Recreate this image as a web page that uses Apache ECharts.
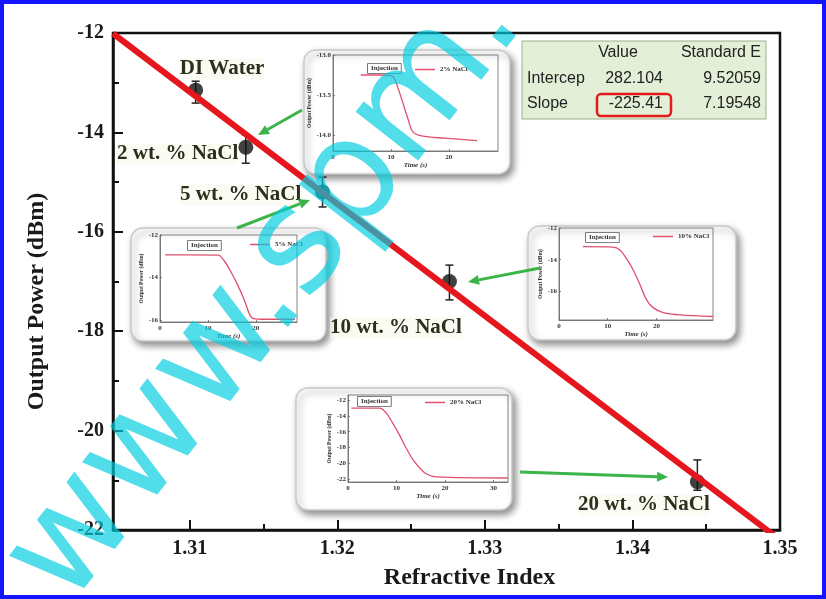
<!DOCTYPE html>
<html><head><meta charset="utf-8">
<script src="https://cdn.jsdelivr.net/npm/echarts@6/dist/echarts.min.js"></script>
<style>html,body{margin:0;padding:0;background:#fff}#c{width:826px;height:599px}</style>
</head><body><div id="c"></div>
<script>
// ---- main data ----
const samples = ['DI Water', '2 wt. % NaCl', '5 wt. % NaCl', '10 wt. % NaCl', '20 wt. % NaCl'];
const refractiveIndex = [1.3104, 1.3138, 1.3190, 1.3276, 1.3444];
const outputPower = [-13.15, -14.30, -15.20, -17.00, -21.03];
const errLow = [-13.41, -14.62, -15.50, -17.37, -21.20];
const errHigh = [-12.97, -14.05, -14.90, -16.67, -20.59];
const fitLineX = [1.3048, 1.3500];
const fitLineY = [-12.01, -22.20];
const xTickLabels = [1.31, 1.32, 1.33, 1.34, 1.35];
const xMinorTicks = [1.315, 1.325, 1.335, 1.345];
const tableRows = ['Intercep', 'Slope'];
const tableValues = ['282.104', '-225.41'];
const tableErrors = ['9.52059', '7.19548'];

// ---- inset data (time in s, output power in dBm) ----
const inset2T = [4.8, 8, 10.2, 10.7, 11.9, 13.0, 13.8, 15.3, 19.2, 24.9];
const inset2P = [-13.25, -13.25, -13.26, -13.31, -13.56, -13.81, -13.96, -14.01, -14.04, -14.07];
const inset5T = [1.1, 6, 12.1, 13.5, 14.8, 16.2, 17.6, 18.6, 19.3, 21.0, 28.2];
const inset5P = [-12.94, -12.94, -12.95, -13.25, -13.73, -14.35, -15.06, -15.69, -15.92, -15.97, -15.97];
const inset10T = [4.9, 11.1, 12.5, 13.8, 15.2, 16.6, 17.9, 19.3, 21.4, 24.8, 31.6];
const inset10P = [-13.17, -13.2, -13.38, -13.9, -14.63, -15.56, -16.5, -17.02, -17.33, -17.48, -17.58];
const inset20T = [0.7, 6.5, 7.9, 9.2, 10.6, 12.0, 13.4, 14.8, 16.2, 18.2, 33];
const inset20P = [-13.04, -13.04, -13.67, -14.9, -16.4, -18.04, -19.5, -20.54, -21.3, -21.66, -21.8];

const SERIF = "'Liberation Serif','Times New Roman',serif";
const SANS = "'Liberation Sans',Arial,sans-serif";
const INK = '#1a1a1a';
const CURVE = '#e0506e';

const insets = [
  {name: '2% NaCl', t: inset2T, p: inset2P, grid: {left: 333, top: 55, width: 165, height: 96},
   xr: [0, 28.5], yr: [-14.2, -13.0], xl: [0, 10, 20], yl: [-14.0, -13.5, -13.0], dec: 1,
   card: [304, 50, 206, 124], inj: [368, 64], leg: [415, 66]},
  {name: '5% NaCl', t: inset5T, p: inset5P, grid: {left: 160, top: 235, width: 137, height: 87},
   xr: [0, 28.6], yr: [-16.1, -12], xl: [0, 10, 20], yl: [-16, -14, -12], dec: 0,
   card: [131, 228, 195, 113], inj: [188, 241], leg: [250, 241]},
  {name: '10% NaCl', t: inset10T, p: inset10P, grid: {left: 559, top: 228, width: 154, height: 92},
   xr: [0, 31.6], yr: [-17.8, -12], xl: [0, 10, 20], yl: [-16, -14, -12], dec: 0,
   card: [528, 226, 208, 114], inj: [586, 233], leg: [653, 233]},
  {name: '20% NaCl', t: inset20T, p: inset20P, grid: {left: 348, top: 395, width: 160, height: 87},
   xr: [0, 33], yr: [-22.3, -11.4], xl: [0, 10, 20, 30], yl: [-22, -20, -18, -16, -14, -12], dec: 0,
   card: [296, 388, 216, 122], inj: [358, 397], leg: [425, 399]}
];

const grids = [{left: 113, right: 46, top: 33, bottom: 69, show: true, borderColor: '#111', borderWidth: 2.5}];
const xAxes = [
  {type: 'value', gridIndex: 0, min: 1.3048, max: 1.35, position: 'bottom',
   name: 'Refractive Index', nameLocation: 'middle', nameGap: 36,
   nameTextStyle: {fontFamily: SERIF, fontWeight: 'bold', fontSize: 24, color: INK, padding: [0, 0, 0, 46]},
   axisLine: {show: true, lineStyle: {color: '#111', width: 2.5}},
   axisTick: {show: true, inside: true, length: 10, lineStyle: {color: '#111', width: 2}, customValues: xTickLabels},
   axisLabel: {show: true, customValues: xTickLabels, margin: 9, fontFamily: SERIF, fontWeight: 'bold', fontSize: 20, color: INK,
     formatter: v => v.toFixed(2)},
   splitLine: {show: false}},
  {type: 'value', gridIndex: 0, min: 1.3048, max: 1.35, position: 'bottom',
   axisLine: {show: false},
   axisTick: {show: true, inside: true, length: 6, lineStyle: {color: '#111', width: 2}, customValues: xMinorTicks},
   axisLabel: {show: false}, splitLine: {show: false}}
];
const yAxes = [
  {type: 'value', gridIndex: 0, min: -22, max: -12, interval: 2,
   name: 'Output Power (dBm)', nameLocation: 'middle', nameGap: 64, nameRotate: 90,
   nameTextStyle: {fontFamily: SERIF, fontWeight: 'bold', fontSize: 24, color: INK, padding: [0, 40, 0, 0]},
   axisLine: {show: true, lineStyle: {color: '#111', width: 2.5}},
   axisTick: {show: true, inside: true, length: 10, lineStyle: {color: '#111', width: 2}},
   minorTick: {show: true, splitNumber: 2, length: 6, lineStyle: {color: '#111', width: 2}},
   axisLabel: {margin: 9, fontFamily: SERIF, fontWeight: 'bold', fontSize: 20, color: INK},
   splitLine: {show: false}, minorSplitLine: {show: false}}
];
const series = [
  {type: 'line', name: 'fit', xAxisIndex: 0, yAxisIndex: 0, data: fitLineX.map((x, i) => [x, fitLineY[i]]),
   symbol: 'none', lineStyle: {color: '#e5161c', width: 6}, z: 6, clip: true, silent: true},
  {type: 'scatter', name: 'data', xAxisIndex: 0, yAxisIndex: 0,
   data: refractiveIndex.map((x, i) => [x, outputPower[i]]),
   symbolSize: 15, itemStyle: {color: '#111'}, z: 4},
  {type: 'custom', name: 'err', xAxisIndex: 0, yAxisIndex: 0, z: 4,
   data: refractiveIndex.map((x, i) => [x, errLow[i], errHigh[i]]),
   renderItem: function (params, api) {
     const x = api.value(0);
     const a = api.coord([x, api.value(1)]);
     const b = api.coord([x, api.value(2)]);
     const cap = 4;
     const st = {stroke: '#222', lineWidth: 1.5};
     return {type: 'group', children: [
       {type: 'line', shape: {x1: a[0], y1: a[1], x2: b[0], y2: b[1]}, style: st},
       {type: 'line', shape: {x1: a[0] - cap, y1: a[1], x2: a[0] + cap, y2: a[1]}, style: st},
       {type: 'line', shape: {x1: b[0] - cap, y1: b[1], x2: b[0] + cap, y2: b[1]}, style: st}
     ]};
   }}
];
const legends = [];
const graphics = [];
const xBase = xAxes.length, yBase = yAxes.length;

insets.forEach((ins, k) => {
  const gi = k + 1;
  grids.push(Object.assign({show: true, borderColor: '#666', borderWidth: 0.8}, ins.grid));
  const small = {fontFamily: SERIF, fontWeight: 'bold', fontSize: 7, color: '#333'};
  xAxes.push({type: 'value', gridIndex: gi, min: ins.xr[0], max: ins.xr[1],
    name: 'Time (s)', nameLocation: 'middle', nameGap: 11,
    nameTextStyle: {fontFamily: SERIF, fontWeight: 'bold', fontStyle: 'italic', fontSize: 7, color: '#333'},
    axisLine: {show: true, lineStyle: {color: '#666', width: 0.8}},
    axisTick: {show: true, inside: true, length: 2, lineStyle: {color: '#666', width: 0.8}, customValues: ins.xl},
    axisLabel: Object.assign({margin: 3, formatter: v => String(Math.round(v)), customValues: ins.xl}, small),
    splitLine: {show: false}});
  yAxes.push({type: 'value', gridIndex: gi, min: ins.yr[0], max: ins.yr[1],
    name: 'Output Power (dBm)', nameLocation: 'middle', nameGap: ins.dec ? 17 : 13, nameRotate: 90,
    nameTextStyle: {fontFamily: SERIF, fontWeight: 'bold', fontSize: 5.5, color: '#333'},
    axisLine: {show: true, lineStyle: {color: '#666', width: 0.8}},
    axisTick: {show: true, inside: true, length: 2, lineStyle: {color: '#666', width: 0.8}, customValues: ins.yl},
    axisLabel: Object.assign({margin: 2, formatter: v => v.toFixed(ins.dec), customValues: ins.yl}, small),
    splitLine: {show: false}});
  series.push({type: 'line', name: ins.name, xAxisIndex: xBase + k, yAxisIndex: yBase + k,
    data: ins.t.map((t, i) => [t, ins.p[i]]), smooth: 0.35, symbol: 'none',
    itemStyle: {color: CURVE}, lineStyle: {color: CURVE, width: 1.3}, z: 3});
  legends.push({data: [ins.name], left: ins.leg[0], top: ins.leg[1], icon: 'rect', itemWidth: 20, itemHeight: 1.5,
    itemGap: 2, padding: 0, textStyle: {fontFamily: SERIF, fontWeight: 'bold', fontSize: 7, color: '#333'},
    selectedMode: false});
  const c = ins.card;
  graphics.push({type: 'rect', shape: {x: c[0], y: c[1], width: c[2], height: c[3], r: 12}, z: -1,
    style: {fill: '#fff', stroke: '#c8c8c8', lineWidth: 1.5, shadowBlur: 7, shadowColor: 'rgba(0,0,0,0.45)', shadowOffsetX: 3, shadowOffsetY: 4}});
  graphics.push({type: 'text', x: ins.inj[0], y: ins.inj[1], z: 10,
    style: {text: 'Injection', font: 'bold 7px ' + SERIF, fill: '#333', borderColor: '#555', borderWidth: 0.8, padding: [1, 3, 1, 3], backgroundColor: '#fff'}});
});

// green arrows
const arrows = [[302, 110, 258, 135], [237, 228, 310, 200], [540, 268, 468, 282], [520, 472, 668, 477]];
arrows.forEach(a => {
  const [x1, y1, x2, y2] = a;
  const ang = Math.atan2(y2 - y1, x2 - x1);
  const L = 11, W = 5;
  const bx = x2 - L * Math.cos(ang), by = y2 - L * Math.sin(ang);
  graphics.push({type: 'line', z: 12, shape: {x1: x1, y1: y1, x2: bx, y2: by}, style: {stroke: '#3cb44a', lineWidth: 3}});
  graphics.push({type: 'polygon', z: 12, shape: {points: [[x2, y2],
    [bx + W * Math.sin(ang), by - W * Math.cos(ang)], [bx - W * Math.sin(ang), by + W * Math.cos(ang)]]},
    style: {fill: '#3cb44a'}});
});

// point labels
const labelPos = [[222, 69, 'center'], [117, 154, 'left'], [180, 195, 'left'], [330, 328, 'left'], [578, 505, 'left']];
samples.forEach((s, i) => {
  graphics.push({type: 'text', x: labelPos[i][0], y: labelPos[i][1], z: 11,
    style: {text: s, font: 'bold 21px ' + SERIF, fill: '#2e2e1c', align: labelPos[i][2], verticalAlign: 'middle',
      backgroundColor: 'rgba(246,248,234,0.6)'}});
});

// fit table
graphics.push({type: 'rect', z: 10, shape: {x: 522, y: 41, width: 244, height: 78},
  style: {fill: '#e3efd6', stroke: '#9daf8c', lineWidth: 1}});
const tf = '16px ' + SANS;
graphics.push({type: 'text', z: 11, x: 618, y: 53, style: {text: 'Value', font: tf, fill: '#222', align: 'center', verticalAlign: 'middle'}});
graphics.push({type: 'text', z: 11, x: 761, y: 53, style: {text: 'Standard E', font: tf, fill: '#222', align: 'right', verticalAlign: 'middle'}});
tableRows.forEach((r, i) => {
  const y = 79 + i * 25;
  graphics.push({type: 'text', z: 11, x: 527, y: y, style: {text: r, font: tf, fill: '#222', align: 'left', verticalAlign: 'middle'}});
  graphics.push({type: 'text', z: 11, x: 663, y: y, style: {text: tableValues[i], font: tf, fill: '#222', align: 'right', verticalAlign: 'middle'}});
  graphics.push({type: 'text', z: 11, x: 761, y: y, style: {text: tableErrors[i], font: tf, fill: '#222', align: 'right', verticalAlign: 'middle'}});
});
graphics.push({type: 'rect', z: 12, shape: {x: 597, y: 94, width: 74, height: 22, r: 4},
  style: {fill: 'none', stroke: '#e21b1b', lineWidth: 2.5}});

// watermark
graphics.push({type: 'text', z: 100, x: 38, y: 586, rotation: 52 * Math.PI / 180,
  style: {text: 'www.spm.', font: "145px 'DejaVu Sans',sans-serif", fill: 'rgba(0,205,225,0.68)', align: 'left', verticalAlign: 'middle'}});

// blue border
graphics.push({type: 'rect', z: 101, shape: {x: 2, y: 2, width: 822, height: 595},
  style: {fill: 'none', stroke: '#1414ff', lineWidth: 4}});

const chart = echarts.init(document.getElementById('c'));
chart.setOption({animation: false, backgroundColor: '#fff', grid: grids, xAxis: xAxes, yAxis: yAxes,
  series: series, legend: legends, graphic: {elements: graphics}});
</script>
</body></html>
